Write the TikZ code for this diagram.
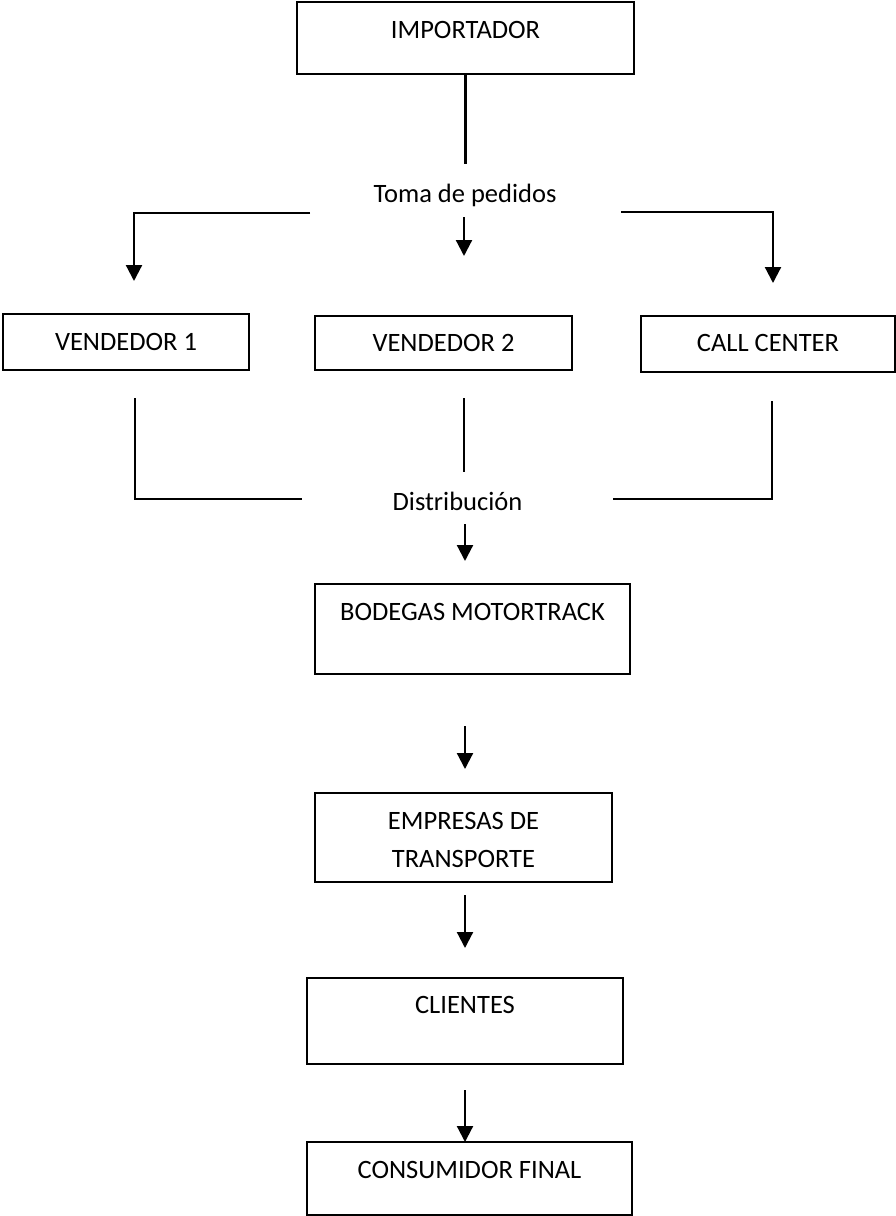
\documentclass[tikz,border=0pt]{standalone}
\usepackage{fontspec}
\setmainfont{Carlito}
\usetikzlibrary{arrows.meta}

\newcommand\chartfont{\fontsize{26.5}{38}\selectfont}

\tikzset{
  box/.style={draw, line width=2.1pt, inner sep=0pt, outer sep=0pt,
              align=flush center, anchor=north, font=\chartfont},
  lbl/.style={inner sep=0pt, anchor=base, font=\chartfont},
  ln/.style={line width=2.2pt},
  thin/.style={line width=1.7pt},
  arr/.style={line width=2.2pt, -{Triangle[width=16pt,length=16pt]}},
}

\begin{document}
\begin{tikzpicture}[x=1pt, y=-1pt]
  \fill[white] (0,0) rectangle (896,1216);
  \useasboundingbox (0,0) rectangle (896,1216);

  % boxes: centre x, top edge; text height = top to first baseline
  \node[box, text width=337pt, text height=36pt, text depth=36pt] (imp) at (465.5,2) {IMPORTADOR};
  \node[box, text width=246pt, text height=36pt, text depth=20pt] (v1) at (126,314) {VENDEDOR 1};
  \node[box, text width=257pt, text height=35pt, text depth=19pt] (v2) at (443.5,316) {VENDEDOR 2};
  \node[box, text width=254pt, text height=35pt, text depth=21pt] (cc) at (768,316) {CALL CENTER};
  \node[box, text width=315pt, text height=36pt, text depth=54pt] (bod) at (472.5,584) {BODEGAS MOTORTRACK};
  \node[box, text width=297pt, text height=36pt, text depth=53pt] (emp) at (463.5,793) {EMPRESAS DE\\TRANSPORTE};
  \node[box, text width=316pt, text height=35pt, text depth=51pt] (cli) at (465,978) {CLIENTES};
  \node[box, text width=325pt, text height=36pt, text depth=37pt] (con) at (469.5,1142) {CONSUMIDOR FINAL};

  % free-standing labels
  \node[lbl] (toma) at (465,202) {Toma de pedidos};
  \node[lbl] (dist) at (457.5,510) {Distribución};

  % order-taking branch
  \coordinate (t0) at (465.5,164);
  \coordinate (tl) at (310,213);
  \coordinate (tla) at (134,281);
  \coordinate (tm) at (464,217);
  \coordinate (tma) at (464,256);
  \coordinate (tr) at (621,212);
  \coordinate (tra) at (773,283);
  \draw[ln] (imp.south) -- (t0);
  \draw[arr] (tl) -| (tla);
  \draw[arr] (tm) -- (tma);
  \draw[arr] (tr) -| (tra);

  % distribution branch
  \coordinate (d1) at (135,398);
  \coordinate (d1e) at (302,499);
  \coordinate (d2) at (464,398);
  \coordinate (d2e) at (464,472);
  \coordinate (d3) at (772,401);
  \coordinate (d3e) at (613,499);
  \coordinate (da) at (465,524);
  \coordinate (dae) at (465,561);
  \draw[thin] (d1) |- (d1e);
  \draw[thin] (d2) -- (d2e);
  \draw[thin] (d3) |- (d3e);
  \draw[arr] (da) -- (dae);

  % chain below the warehouse
  \coordinate (a1) at (465,726);
  \coordinate (a1e) at (465,769);
  \coordinate (a2) at (465,895);
  \coordinate (a2e) at (465,948);
  \coordinate (a3) at (465,1090);
  \draw[arr] (a1) -- (a1e);
  \draw[arr] (a2) -- (a2e);
  \draw[arr] (a3) -- (con.north -| a3);
\end{tikzpicture}
\end{document}
